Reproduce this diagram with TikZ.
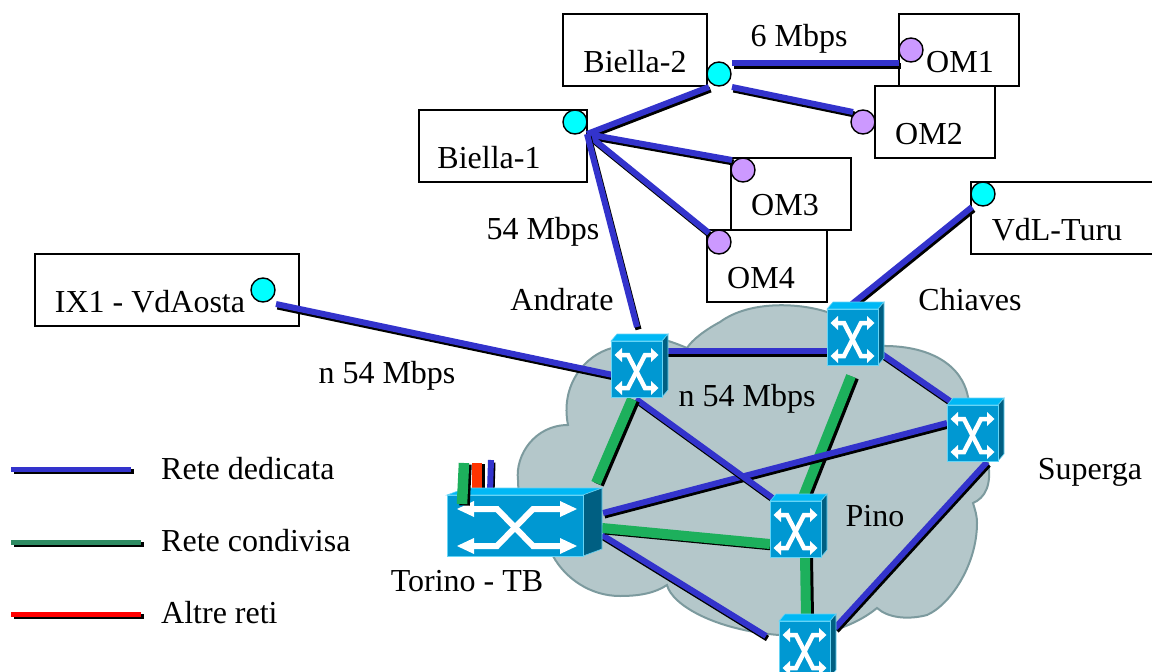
\documentclass[tikz,border=0pt]{standalone}
\usepackage{fontspec}
\setmainfont{Liberation Serif}
\definecolor{linkblue}{HTML}{3333CC}
\definecolor{linkgreen}{HTML}{1DB05C}
\definecolor{seagreen}{HTML}{2E8B62}
\definecolor{stubred}{HTML}{FF3300}
\definecolor{cloudfill}{HTML}{B4C7CA}
\definecolor{cloudline}{HTML}{7C9A9E}
\definecolor{swfrontc}{HTML}{0098D2}
\definecolor{swtopc}{HTML}{00B8F5}
\definecolor{swsidec}{HTML}{005F82}
\definecolor{swedge}{HTML}{66D4F5}
\definecolor{cyandot}{HTML}{00FFFF}
\definecolor{purpledot}{HTML}{CC99FF}
\tikzset{
  x=1pt,y=-1pt,
  txt/.style={inner sep=0pt,anchor=base,font=\fontsize{32}{34}\selectfont},
  ltxt/.style={txt,anchor=base west},
  boxnode/.style={draw=black,fill=white,line width=1.5pt,minimum width=#1,minimum height=72pt,inner sep=0pt,outer sep=0pt},
  dotcyan/.style={circle,draw=black,fill=cyandot,line width=1.4pt,minimum size=24pt,inner sep=0pt},
  dotpurple/.style={circle,draw=black,fill=purpledot,line width=1.4pt,minimum size=24pt,inner sep=0pt},
  bluelink/.style={draw=linkblue,line width=6pt},
  blueshadow/.style={draw=black,line width=6pt,transform canvas={shift={(1.5pt,-2.5pt)}}},
  greenlink/.style={draw=linkgreen,line width=10pt},
  greenshadow/.style={draw=black,line width=10pt,transform canvas={shift={(3pt,-1.5pt)}}},
  redlink/.style={draw=stubred,line width=10pt},
  redshadow/.style={draw=black,line width=10pt,transform canvas={shift={(3pt,-1pt)}}},
  stubgreen/.style={draw=linkgreen,line width=10.5pt},
  stubshadow/.style={draw=black,line width=10.5pt,transform canvas={shift={(2.5pt,-1.5pt)}}},
  legshadow/.style={draw=black,line width=5pt,transform canvas={shift={(2.5pt,-2.5pt)}}},
  legblue/.style={draw=linkblue,line width=5pt},
  leggreen/.style={draw=seagreen,line width=5pt},
  legred/.style={draw=red,line width=5pt},
  swfront/.style={draw=swedge,fill=swfrontc,line width=0.8pt,inner sep=0pt,outer sep=0pt,anchor=north west},
  swtop/.style={fill=swtopc,draw=swedge,line width=0.6pt},
  swside/.style={fill=swsidec,draw=swedge,line width=0.6pt},
  iconline/.style={draw=white,line join=miter},
  iconhead/.style={fill=white},
}
\newcommand{\bl}[2]{\draw[blueshadow] (#1) -- (#2); \draw[bluelink] (#1) -- (#2);}
\newcommand{\gl}[2]{\draw[greenshadow] (#1) -- (#2); \draw[greenlink] (#1) -- (#2);}
\newcommand{\smallsw}[3]{%
\begin{scope}[shift={(#2,#3)}]
  \path[swtop] (0,0) -- (6,-7) -- (57,-7) -- (51,0) -- cycle;
  \path[swside] (51,0) -- (57,-7) -- (57,49) -- (51,56) -- cycle;
  \node[swfront,minimum width=51pt,minimum height=56pt] (#1) at (0,0) {};
  \path[iconline,line width=4.5pt] (9,14) -- (17,14) -- (34,47) -- (42,47);
  \path[iconline,line width=4.5pt] (9,47) -- (17,47) -- (34,14) -- (42,14);
  \foreach \yy in {14,47}{
    \fill[iconhead] (3.5,\yy) -- (11,\yy-7) -- (11,\yy+7) -- cycle;
    \fill[iconhead] (47.5,\yy) -- (40,\yy-7) -- (40,\yy+7) -- cycle;
  }
\end{scope}}
\begin{document}
\begin{tikzpicture}
\useasboundingbox (0,0) rectangle (1152,672);
\clip (0,0) rectangle (1152,672);
\fill[white] (0,0) rectangle (1152,672);

% cloud
\path[fill=cloudfill,draw=cloudline,line width=2pt]
  (612,348) .. controls (585,355) and (560,385) .. (568,425)
  .. controls (535,425) and (515,455) .. (518,480)
  .. controls (518,510) and (535,530) .. (553,556)
  .. controls (565,578) and (590,596) .. (620,596)
  .. controls (640,596) and (655,593) .. (667,585)
  .. controls (672,605) and (715,630) .. (779,635)
  -- (835,630)
  .. controls (850,625) and (865,618) .. (877,608)
  .. controls (888,618) and (908,620) .. (927,615)
  .. controls (950,605) and (977,565) .. (977,523)
  .. controls (977,515) and (975,510) .. (973,503)
  .. controls (985,498) and (992,485) .. (988,462)
  -- (968,397)
  .. controls (962,365) and (930,345) .. (880,346)
  -- (827,312)
  .. controls (800,303) and (750,300) .. (720,322)
  .. controls (705,330) and (692,340) .. (687,348)
  .. controls (680,345) and (672,342) .. (665,340)
  -- cycle;

% boxes
\node[boxnode=144pt] (biella2) at (635,50) {};
\node[boxnode=168pt] (biella1) at (503,146) {};
\node[boxnode=120pt] (om1) at (959,50) {};
\node[boxnode=120pt] (om2) at (935,122) {};
\node[boxnode=120pt] (om3) at (791,194) {};
\node[boxnode=120pt] (om4) at (767,266) {};
\node[boxnode=190pt] (vdl) at (1066,218) {};
\node[boxnode=264pt] (ix1) at (167,290) {};

% ports: connector ends at the nodes
\coordinate (ixp) at (276,304);
\coordinate (andW) at (613,375);
\coordinate (hub) at (587,134);
\coordinate (b2s) at (709,87);
\coordinate (om3p) at (732,160);
\coordinate (om4p) at (709,233);
\coordinate (andN) at (637,327);
\coordinate (b2e) at (732,63);
\coordinate (om1p) at (899,63);
\coordinate (b2se) at (732,87);
\coordinate (om2p) at (853,112);
\coordinate (vdlp) at (972,207);
\coordinate (chiN) at (852,304);
\coordinate (andE) at (665,351);
\coordinate (chiW) at (827,351);
\coordinate (chiE) at (876,350);
\coordinate (supN) at (950,401);
\coordinate (supW) at (947,423);
\coordinate (tbE1) at (603,513);
\coordinate (andS) at (636,399);
\coordinate (pinN) at (774,499);
\coordinate (supS) at (987,462);
\coordinate (botE) at (835,628);
\coordinate (tbE3) at (602,535);
\coordinate (botW) at (766,636);
\coordinate (andSg) at (632,399);
\coordinate (tbN) at (596,483);
\coordinate (chiS) at (851,376);
\coordinate (pinNg) at (803,497);
\coordinate (tbE2) at (602,528);
\coordinate (pinW) at (770,544);
\coordinate (pinS) at (805,556);
\coordinate (botN) at (806,616);

% links
\bl{ixp}{andW}
\bl{hub}{b2s}
\bl{hub}{om3p}
\bl{hub}{om4p}
\bl{hub}{andN}
\bl{b2e}{om1p}
\bl{b2se}{om2p}
\bl{vdlp}{chiN}
\bl{andE}{chiW}
\bl{chiE}{supN}
\gl{chiS}{pinNg}
\bl{supW}{tbE1}
\bl{andS}{pinN}
\bl{supS}{botE}
\bl{tbE3}{botW}
\gl{andSg}{tbN}
\gl{tbE2}{pinW}
\gl{pinS}{botN}

% stubs behind Torino switch
\coordinate (redT) at (477,463);
\coordinate (redB) at (477,492);
\coordinate (bluT) at (491,460);
\coordinate (bluB) at (490,492);
\coordinate (grnT) at (464,463);
\coordinate (grnB) at (462,504);
\draw[redshadow] (redT) -- (redB);
\draw[redlink] (redT) -- (redB);
\bl{bluT}{bluB}

% switches
\smallsw{andrate}{611}{341}
\smallsw{chiaves}{827}{309}
\smallsw{superga}{947}{405}
\smallsw{pino}{770}{501}
\smallsw{bottom}{779}{621}
\begin{scope}[shift={(447,495)}]
  \path[swtop] (0,0) -- (19,-7) -- (155,-7) -- (136,0) -- cycle;
  \path[swside] (136,0) -- (155,-7) -- (155,54) -- (136,61) -- cycle;
  \node[swfront,minimum width=136pt,minimum height=61pt] (torino) at (0,0) {};
  \path[iconline,line width=6pt] (24,14) -- (50,14) -- (86,51) -- (116,51);
  \path[iconline,line width=6pt] (24,51) -- (50,51) -- (86,14) -- (116,14);
  \foreach \yy in {14,51}{
    \fill[iconhead] (10,\yy) -- (27,\yy-8) -- (27,\yy+8) -- cycle;
    \fill[iconhead] (130,\yy) -- (113,\yy-8) -- (113,\yy+8) -- cycle;
  }
\end{scope}
\draw[stubshadow] (grnT) -- (grnB);
\draw[stubgreen] (grnT) -- (grnB);

% dots
\node[dotcyan] (d1) at (719,74) {};
\node[dotcyan] (d2) at (575,122) {};
\node[dotpurple] (d3) at (911,50) {};
\node[dotpurple] (d4) at (863,122) {};
\node[dotpurple] (d5) at (743,170) {};
\node[dotpurple] (d6) at (719,242) {};
\node[dotcyan] (d7) at (983,194) {};
\node[dotcyan] (d8) at (263,290) {};

% labels
\node[txt] (t1) at (635,72) {Biella-2};
\node[txt] (t2) at (489,168) {Biella-1};
\node[txt] (t3) at (960,72) {OM1};
\node[txt] (t4) at (929,144) {OM2};
\node[txt] (t5) at (785,215) {OM3};
\node[txt] (t6) at (761,288) {OM4};
\node[txt] (t7) at (1057,240) {VdL-Turu};
\node[txt] (t8) at (150,312) {IX1 - VdAosta};
\node[txt] (t9) at (799,46) {6 Mbps};
\node[txt] (t10) at (543,239) {54 Mbps};
\node[txt] (t11) at (562,310) {Andrate};
\node[txt] (t12) at (970,310) {Chiaves};
\node[txt] (t13) at (387,383) {n 54 Mbps};
\node[txt] (t14) at (747,406) {n 54 Mbps};
\node[txt] (t15) at (1090,479) {Superga};
\node[txt] (t16) at (875,526) {Pino};
\node[txt] (t17) at (467,591) {Torino - TB};

% legend
\coordinate (l1a) at (11,469); \coordinate (l1b) at (131,469);
\coordinate (l2a) at (11,542); \coordinate (l2b) at (141,542);
\coordinate (l3a) at (11,614); \coordinate (l3b) at (141,614);
\draw[legshadow] (l1a) -- (l1b);
\draw[legblue] (l1a) -- (l1b);
\draw[legshadow] (l2a) -- (l2b);
\draw[leggreen] (l2a) -- (l2b);
\draw[legshadow] (l3a) -- (l3b);
\draw[legred] (l3a) -- (l3b);
\node[ltxt] (t18) at (161,479) {Rete dedicata};
\node[ltxt] (t19) at (161,551) {Rete condivisa};
\node[ltxt] (t20) at (161,623) {Altre reti};
\end{tikzpicture}
\end{document}
